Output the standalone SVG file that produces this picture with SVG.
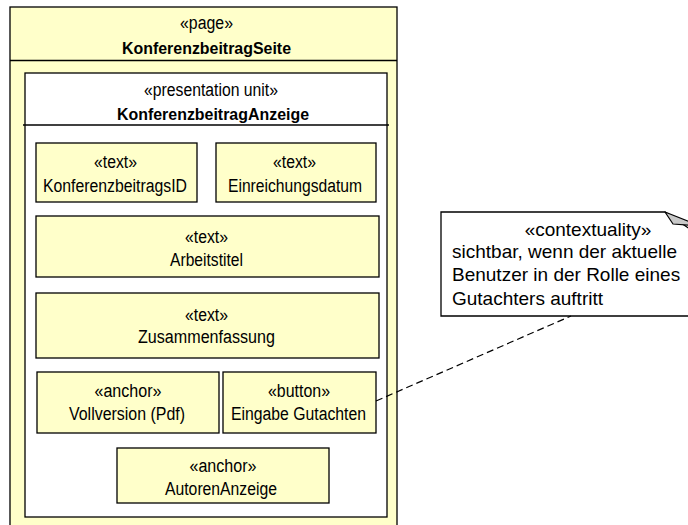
<svg xmlns="http://www.w3.org/2000/svg" width="688" height="525" viewBox="0 0 688 525">
<style>
.y{fill:#FFFFCA;stroke:#000;stroke-width:1.3}
.w{fill:#FFF;stroke:#000;stroke-width:1.3}
.ln{stroke:#000;stroke-width:1.3;fill:none}
text{font-family:"Liberation Sans",Arial,sans-serif;fill:#000;text-anchor:middle}
.t{font-size:18px}
.b{font-size:17px;font-weight:bold}
.n{font-size:19px;text-anchor:start}
.c{stroke:#000;stroke-width:1.2;fill:none;stroke-dasharray:7 4}
</style>
<g id="page">
<rect class="y" x="10" y="7" width="387" height="530"/>
<line class="ln" x1="10" y1="60.5" x2="397" y2="60.5"/>
<text class="t" x="206.5" y="28.5" textLength="53" lengthAdjust="spacingAndGlyphs">«page»</text>
<text class="b" x="206.5" y="53.5" textLength="169" lengthAdjust="spacingAndGlyphs">KonferenzbeitragSeite</text>
</g>
<g id="presentationUnit">
<rect class="w" x="25" y="73" width="362" height="444"/>
<line class="ln" x1="23" y1="125" x2="389" y2="125"/>
<text class="t" x="211" y="96" textLength="134" lengthAdjust="spacingAndGlyphs">«presentation unit»</text>
<text class="b" x="213" y="120" textLength="192" lengthAdjust="spacingAndGlyphs">KonferenzbeitragAnzeige</text>
</g>
<g id="konferenzbeitragsID">
<rect class="y" x="36" y="143" width="161" height="59"/>
<text class="t" x="115.5" y="168" textLength="43" lengthAdjust="spacingAndGlyphs">«text»</text>
<text class="t" x="115" y="191.5" textLength="144" lengthAdjust="spacingAndGlyphs">KonferenzbeitragsID</text>
</g>
<g id="einreichungsdatum">
<rect class="y" x="216" y="143" width="160" height="59"/>
<text class="t" x="294.5" y="168" textLength="43" lengthAdjust="spacingAndGlyphs">«text»</text>
<text class="t" x="295" y="191.5" textLength="134" lengthAdjust="spacingAndGlyphs">Einreichungsdatum</text>
</g>
<g id="arbeitstitel">
<rect class="y" x="36" y="216" width="343" height="61"/>
<text class="t" x="206.5" y="242.5" textLength="43" lengthAdjust="spacingAndGlyphs">«text»</text>
<text class="t" x="206.5" y="265.5" textLength="73" lengthAdjust="spacingAndGlyphs">Arbeitstitel</text>
</g>
<g id="zusammenfassung">
<rect class="y" x="36" y="293" width="343" height="65"/>
<text class="t" x="206.5" y="320.5" textLength="43" lengthAdjust="spacingAndGlyphs">«text»</text>
<text class="t" x="206.5" y="343" textLength="137" lengthAdjust="spacingAndGlyphs">Zusammenfassung</text>
</g>
<g id="vollversion">
<rect class="y" x="37" y="372" width="182" height="61"/>
<text class="t" x="128" y="397" textLength="67" lengthAdjust="spacingAndGlyphs">«anchor»</text>
<text class="t" x="127" y="419.5" textLength="116" lengthAdjust="spacingAndGlyphs">Vollversion (Pdf)</text>
</g>
<g id="eingabeGutachten">
<rect class="y" x="223" y="372" width="153" height="61"/>
<text class="t" x="299" y="397" textLength="62" lengthAdjust="spacingAndGlyphs">«button»</text>
<text class="t" x="298.5" y="419.5" textLength="135" lengthAdjust="spacingAndGlyphs">Eingabe Gutachten</text>
</g>
<g id="autorenAnzeige">
<rect class="y" x="117" y="448" width="212" height="55"/>
<text class="t" x="223" y="471.5" textLength="67" lengthAdjust="spacingAndGlyphs">«anchor»</text>
<text class="t" x="221" y="495" textLength="112" lengthAdjust="spacingAndGlyphs">AutorenAnzeige</text>
</g>
<g id="note">
<path class="w" d="M441,212 H665 L700,236 V316 H441 Z"/>
<polygon points="665,212 673,224 700,226" fill="#C8C8C8" stroke="#000" stroke-width="1.2" stroke-linejoin="round"/>
<text style="font-size:19px" x="588" y="235.5">«contextuality»</text>
<text class="n" x="452" y="257.5">sichtbar, wenn der aktuelle</text>
<text class="n" x="452" y="281">Benutzer in der Rolle eines</text>
<text class="n" x="452" y="304.5">Gutachters auftritt</text>
</g>
<g id="connectors">
<line class="c" x1="376" y1="401" x2="571" y2="316"/>
</g>
</svg>
